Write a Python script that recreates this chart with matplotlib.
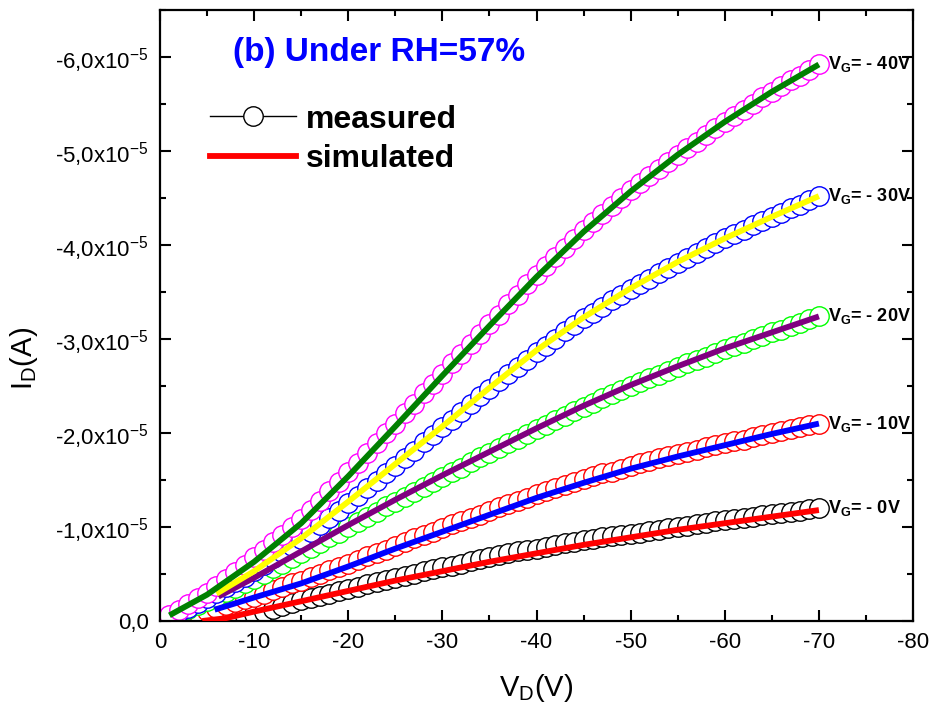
import numpy as np
import matplotlib
matplotlib.use("Agg")
import matplotlib.pyplot as plt
from matplotlib.ticker import FixedLocator, FixedFormatter, MultipleLocator

plt.rcParams["font.family"] = ["Liberation Sans", "DejaVu Sans"]
plt.rcParams["mathtext.fontset"] = "custom"
plt.rcParams["mathtext.rm"] = "Liberation Sans"
plt.rcParams["mathtext.it"] = "Liberation Sans:italic"
plt.rcParams["mathtext.bf"] = "Liberation Sans:bold"
plt.rcParams["axes.unicode_minus"] = False

# measured points, V_D = -1 ... -70 V, |I_D| in units of 1e-5 A
vd_meas = np.arange(-1, -71, -1)

meas_40 = [0.06, 0.12, 0.18, 0.24, 0.30, 0.37, 0.45, 0.52, 0.60, 0.68,
           0.76, 0.84, 0.92, 1.00, 1.08, 1.18, 1.28, 1.38, 1.48, 1.58,
           1.68, 1.79, 1.89, 2.00, 2.10, 2.21, 2.31, 2.42, 2.52, 2.63,
           2.74, 2.84, 2.95, 3.05, 3.16, 3.26, 3.37, 3.47, 3.58, 3.68,
           3.78, 3.87, 3.97, 4.06, 4.16, 4.24, 4.33, 4.41, 4.50, 4.58,
           4.66, 4.73, 4.81, 4.88, 4.96, 5.03, 5.10, 5.17, 5.24, 5.31,
           5.37, 5.44, 5.50, 5.57, 5.63, 5.69, 5.75, 5.80, 5.86, 5.92]
meas_30 = [0.05, 0.10, 0.14, 0.19, 0.24, 0.30, 0.36, 0.41, 0.47, 0.53,
           0.60, 0.67, 0.73, 0.80, 0.87, 0.95, 1.02, 1.10, 1.17, 1.25,
           1.33, 1.41, 1.49, 1.57, 1.65, 1.73, 1.81, 1.90, 1.98, 2.06,
           2.14, 2.22, 2.31, 2.39, 2.47, 2.55, 2.63, 2.70, 2.78, 2.86,
           2.93, 3.00, 3.08, 3.15, 3.22, 3.28, 3.34, 3.41, 3.47, 3.53,
           3.59, 3.64, 3.70, 3.75, 3.81, 3.86, 3.91, 3.97, 4.02, 4.07,
           4.12, 4.16, 4.21, 4.25, 4.30, 4.34, 4.39, 4.43, 4.48, 4.52]
meas_20 = [0.04, 0.08, 0.13, 0.17, 0.21, 0.26, 0.31, 0.35, 0.40, 0.45,
           0.50, 0.56, 0.61, 0.67, 0.72, 0.78, 0.83, 0.89, 0.94, 1.00,
           1.05, 1.11, 1.16, 1.22, 1.27, 1.32, 1.37, 1.43, 1.48, 1.53,
           1.58, 1.63, 1.69, 1.74, 1.79, 1.84, 1.89, 1.94, 1.99, 2.04,
           2.09, 2.14, 2.18, 2.23, 2.28, 2.32, 2.37, 2.41, 2.46, 2.50,
           2.54, 2.58, 2.62, 2.66, 2.70, 2.74, 2.78, 2.81, 2.85, 2.89,
           2.93, 2.96, 3.00, 3.03, 3.07, 3.10, 3.14, 3.17, 3.21, 3.24]
meas_10 = [0.02, 0.04, 0.07, 0.09, 0.11, 0.14, 0.17, 0.20, 0.23, 0.26,
           0.29, 0.33, 0.36, 0.40, 0.43, 0.47, 0.50, 0.54, 0.57, 0.61,
           0.65, 0.69, 0.72, 0.76, 0.80, 0.84, 0.88, 0.91, 0.95, 0.99,
           1.03, 1.06, 1.10, 1.13, 1.17, 1.21, 1.24, 1.28, 1.31, 1.35,
           1.38, 1.41, 1.45, 1.48, 1.51, 1.54, 1.57, 1.59, 1.62, 1.65,
           1.68, 1.70, 1.73, 1.75, 1.78, 1.80, 1.82, 1.85, 1.87, 1.89,
           1.91, 1.93, 1.96, 1.98, 2.00, 2.02, 2.04, 2.06, 2.08, 2.10]
meas_0 = [0.00, 0.00, 0.00, 0.01, 0.01, 0.01, 0.02, 0.03, 0.05, 0.07,
          0.10, 0.13, 0.16, 0.19, 0.22, 0.24, 0.27, 0.29, 0.32, 0.34,
          0.36, 0.39, 0.41, 0.44, 0.46, 0.48, 0.50, 0.53, 0.55, 0.57,
          0.59, 0.61, 0.64, 0.66, 0.68, 0.70, 0.72, 0.74, 0.75, 0.77,
          0.79, 0.81, 0.83, 0.84, 0.86, 0.87, 0.89, 0.90, 0.92, 0.93,
          0.94, 0.96, 0.97, 0.99, 1.00, 1.01, 1.03, 1.04, 1.06, 1.07,
          1.08, 1.10, 1.11, 1.13, 1.14, 1.15, 1.16, 1.17, 1.19, 1.20]

# simulated curves
vd_s40 = [-1, -5, -10, -15, -20, -25, -30, -35, -40, -45, -50, -55, -60, -65, -70]
sim_40 = [0.06, 0.28, 0.63, 1.04, 1.54, 2.07, 2.61, 3.14, 3.66, 4.14, 4.57, 4.96, 5.31, 5.63, 5.92]
vd_s30 = [-6, -10, -15, -20, -25, -30, -35, -40, -45, -50, -55, -60, -65, -70]
sim_30 = [0.29, 0.53, 0.88, 1.27, 1.67, 2.07, 2.48, 2.88, 3.23, 3.54, 3.82, 4.07, 4.30, 4.52]
vd_s20 = [-6.2, -10, -15, -20, -25, -30, -35, -40, -45, -50, -55, -60, -65, -70]
sim_20 = [0.26, 0.46, 0.74, 1.02, 1.29, 1.55, 1.80, 2.05, 2.29, 2.51, 2.71, 2.90, 3.07, 3.24]
vd_s10 = [-5.8, -10, -15, -20, -25, -30, -35, -40, -45, -50, -55, -60, -65, -70]
sim_10 = [0.12, 0.25, 0.40, 0.58, 0.77, 0.95, 1.13, 1.31, 1.47, 1.62, 1.75, 1.87, 1.99, 2.10]
vd_s0 = [-4.5, -7, -10, -15, -20, -25, -30, -35, -40, -45, -50, -55, -60, -65, -70]
sim_0 = [0.00, 0.03, 0.10, 0.21, 0.32, 0.43, 0.53, 0.63, 0.72, 0.81, 0.89, 0.97, 1.04, 1.11, 1.18]

gate_labels = ["- 0V", "- 10V", "- 20V", "- 30V", "- 40V"]
meas_sets = [meas_0, meas_10, meas_20, meas_30, meas_40]
sim_sets = [(vd_s0, sim_0), (vd_s10, sim_10), (vd_s20, sim_20),
            (vd_s30, sim_30), (vd_s40, sim_40)]
marker_colors = ["black", "#FF0000", "#00FF00", "#0000FF", "#FF00FF"]
line_colors = ["#FF0000", "#0000FF", "#800080", "#FFFF00", "#008000"]

ytick_vals = [0, -1e-5, -2e-5, -3e-5, -4e-5, -5e-5, -6e-5]
ytick_text = ["0,0", "-1,0x10$^{-5}$", "-2,0x10$^{-5}$", "-3,0x10$^{-5}$",
              "-4,0x10$^{-5}$", "-5,0x10$^{-5}$", "-6,0x10$^{-5}$"]

fig = plt.figure(figsize=(9.33, 7.11), dpi=100)
ax = fig.add_axes([0.1715, 0.1266, 0.8071, 0.8594])

scale = -1e-5
for ys, mc in zip(meas_sets, marker_colors):
    ax.plot(vd_meas, np.array(ys) * scale, linestyle="none", marker="o",
            markersize=14, markerfacecolor="white", markeredgecolor=mc,
            markeredgewidth=1.0, zorder=2)

for (xs, ys), lc in zip(sim_sets, line_colors):
    ax.plot(xs, np.array(ys) * scale, color=lc, linewidth=4.2,
            solid_capstyle="butt", zorder=3)

for ys, lab in zip(meas_sets, gate_labels):
    ax.text(vd_meas[-1] - 1.0, ys[-1] * scale, "V$_\\mathbf{G}$= " + lab,
            fontsize=13, fontweight="bold", ha="left", va="center")

ax.set_xlim(0, -80)
ax.set_ylim(0, -6.5e-5)
ax.xaxis.set_major_locator(MultipleLocator(10))
ax.xaxis.set_minor_locator(MultipleLocator(5))
ax.yaxis.set_major_locator(FixedLocator(ytick_vals))
ax.yaxis.set_major_formatter(FixedFormatter(ytick_text))
ax.yaxis.set_minor_locator(MultipleLocator(0.5e-5))

ax.tick_params(which="both", direction="in", top=True, right=True, width=1.5)
ax.tick_params(which="major", length=8, labelsize=16, pad=8)
ax.tick_params(which="minor", length=4.5)
for sp in ax.spines.values():
    sp.set_linewidth(1.6)

ax.set_xlabel("V$_\\mathrm{D}$(V)", fontsize=21)
ax.set_ylabel("I$_\\mathrm{D}$(A)", fontsize=21)
ax.xaxis.set_label_coords(0.5, -0.083)
ax.yaxis.set_label_coords(-0.16, 0.43)

ax.text(0.097, 0.931, "(b) Under RH=57%", transform=ax.transAxes,
        color="#0000FF", fontsize=24, fontweight="bold", ha="left", va="center")

h1, = ax.plot([], [], color="black", linewidth=1.0, marker="o", markersize=14,
              markerfacecolor="white", markeredgecolor="black")
h2, = ax.plot([], [], color="#FF0000", linewidth=4.2)
leg = ax.legend([h1, h2], ["measured", "simulated"], loc="upper left",
                bbox_to_anchor=(0.066, 0.845), frameon=False,
                prop={"size": 23, "weight": "bold"}, handlelength=2.7,
                handletextpad=0.3, labelspacing=0.3, borderpad=0,
                borderaxespad=0)

fig.savefig("out.png", dpi=100)
